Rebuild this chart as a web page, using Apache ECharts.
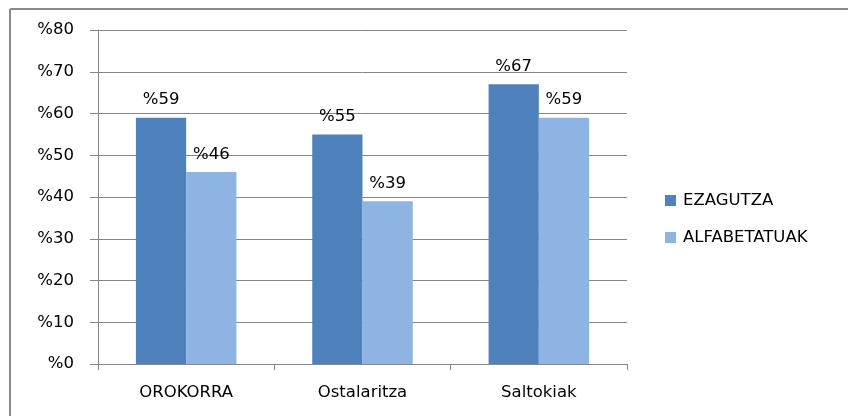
<!DOCTYPE html>
<html>
<head>
<meta charset="utf-8">
<script src="https://cdn.jsdelivr.net/npm/echarts@6/dist/echarts.min.js"></script>
<style>
    html, body { margin: 0; padding: 0; background: #fff; }
    #chart { width: 848px; height: 416px; }
</style>
</head>
<body>
<div id="chart"></div>
<script>
// datuak
var categories = ['OROKORRA', 'Ostalaritza', 'Saltokiak'];
var ezagutza = [59, 55, 67];
var alfabetatuak = [46, 39, 59];
var seriesNames = ['EZAGUTZA', 'ALFABETATUAK'];

var chart = echarts.init(document.getElementById('chart'));
var font = 'DejaVu Sans';
var fsize = 16.5;
var gray = '#868686';

var labelCfg = {
    show: true,
    position: 'top',
    distance: 9,
    formatter: '%{c}',
    color: '#000',
    fontFamily: font,
    fontSize: fsize
};

var option = {
    animation: false,
    textStyle: { fontFamily: font },
    grid: { left: 98, right: 221, top: 30, bottom: 52 },
    // koadroaren ertzak (goian eta ezkerrean)
    graphic: [
        { type: 'line', shape: { x1: 10, y1: 9, x2: 848, y2: 9 }, style: { stroke: '#8a8a8a', lineWidth: 2 } },
        { type: 'line', shape: { x1: 10, y1: 9, x2: 10, y2: 416 }, style: { stroke: '#8a8a8a', lineWidth: 2 } }
    ],
    legend: {
        orient: 'vertical',
        left: 665,
        top: 192,
        padding: 0,
        itemWidth: 11,
        itemHeight: 11,
        itemGap: 20,
        icon: 'rect',
        textStyle: { color: '#000', fontFamily: font, fontSize: fsize, padding: [0, 0, 0, 2] },
        data: seriesNames
    },
    xAxis: {
        type: 'category',
        data: categories,
        axisLine: { lineStyle: { color: gray } },
        axisTick: { show: true, length: 6, lineStyle: { color: gray } },
        axisLabel: { color: '#000', fontFamily: font, fontSize: fsize, margin: 20 }
    },
    yAxis: {
        type: 'value',
        min: 0,
        max: 80,
        interval: 10,
        axisLine: { show: true, lineStyle: { color: gray } },
        axisTick: { show: true, length: 8, lineStyle: { color: gray } },
        splitLine: { lineStyle: { color: gray } },
        axisLabel: { formatter: '%{value}', color: '#000', fontFamily: font, fontSize: fsize, margin: 24 }
    },
    series: [{
        name: seriesNames[0],
        type: 'bar',
        data: ezagutza,
        barGap: '0%',
        barCategoryGap: '43%',
        itemStyle: { color: '#4F81BD' },
        label: labelCfg
    }, {
        name: seriesNames[1],
        type: 'bar',
        data: alfabetatuak,
        itemStyle: { color: '#8EB4E3' },
        label: labelCfg
    }]
};
chart.setOption(option);
</script>
</body>
</html>
